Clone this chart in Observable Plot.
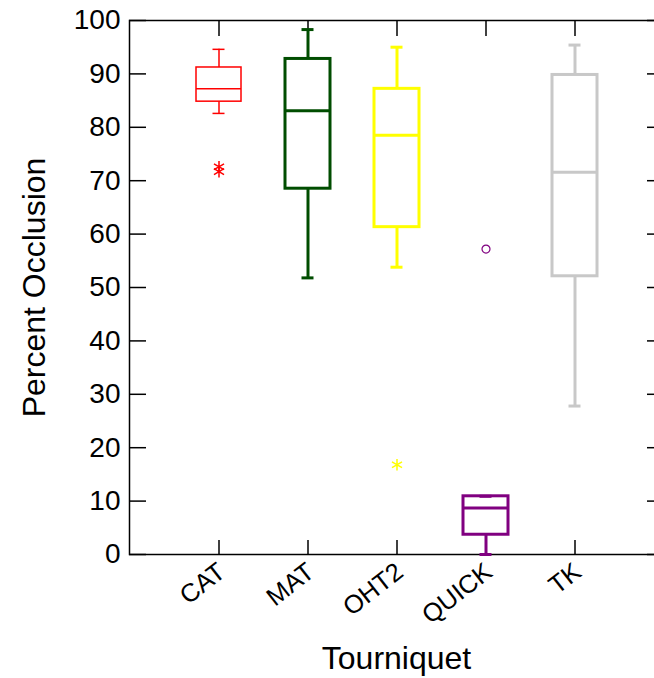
<!DOCTYPE html>
<html>
<head>
<meta charset="utf-8">
<script src="https://cdn.jsdelivr.net/npm/d3@7"></script>
<script src="https://cdn.jsdelivr.net/npm/@observablehq/plot@0.6"></script>
<style>
  html, body { margin: 0; padding: 0; background: white; overflow: hidden; }
  svg { max-width: none !important; }
</style>
</head>
<body>
<div id="chart"></div>
<script>
// ---- data ----
const categories   = ["CAT", "MAT", "OHT2", "QUICK", "TK"];
const whiskerLow   = [82.6, 51.8, 53.8, 0.0, 27.8];
const quartile1    = [84.8, 68.5, 61.3, 3.7, 52.1];
const medians      = [87.2, 83.1, 78.5, 8.7, 71.6];
const quartile3    = [91.2, 92.8, 87.2, 10.9, 89.8];
const whiskerHigh  = [94.6, 98.3, 95.0, 10.9, 95.4];

const outlierCategory = ["CAT", "CAT", "OHT2", "QUICK"];
const outlierValue    = [72.6, 71.7, 16.8, 57.2];
const outlierKind     = ["extreme", "extreme", "extreme", "outlier"];

const yTicks = [0, 10, 20, 30, 40, 50, 60, 70, 80, 90, 100];
const xTitle = "Tourniquet";
const yTitle = "Percent Occlusion";

// ---- styles ----
const seriesColors = ["#ff0000", "#004d00", "#ffff00", "#800080", "#c8c8c8"];
const thinSeries = ["CAT"];
const widthOf = d => thinSeries.includes(d.cat) ? 1.5 : 3;

const boxes = categories.map((cat, i) => ({
  cat, lo: whiskerLow[i], q1: quartile1[i], med: medians[i], q3: quartile3[i], hi: whiskerHigh[i]
}));
const outliers = outlierCategory.map((cat, i) => ({cat, value: outlierValue[i], kind: outlierKind[i]}));

const font = "'Liberation Sans', Arial, Helvetica, sans-serif";

const chart = Plot.plot({
  width: 664,
  height: 678,
  marginLeft: 129,
  marginRight: 1,
  marginTop: 20,
  marginBottom: 124,
  style: {fontFamily: font, color: "black", background: "white"},
  x: {type: "band", domain: categories, paddingInner: 0.5, paddingOuter: 0.75},
  y: {domain: [0, 100]},
  color: {domain: categories, range: seriesColors},
  symbol: {domain: ["extreme", "outlier"], range: ["asterisk", "circle"]},
  marks: [
    Plot.frame({stroke: "black", strokeWidth: 1.5}),
    // left axis (ticks inward)
    Plot.axisY({anchor: "left", ticks: yTicks, tickSize: -17, tickPadding: 26, fontSize: 28,
      strokeWidth: 1.5, label: null}),
    Plot.axisY({anchor: "left", ticks: [], label: yTitle, fontSize: 32,
      labelAnchor: "center", labelArrow: "none", labelOffset: 107}),
    // right axis ticks only
    Plot.axisY({anchor: "right", ticks: yTicks, tickSize: -17, tickFormat: () => "", strokeWidth: 1.5, label: null}),
    // bottom axis: ticks upward, then rotated labels
    Plot.axisX({anchor: "bottom", tickSize: -14, tickFormat: () => "", strokeWidth: 1.5, label: null}),
    Plot.axisX({anchor: "bottom", tickSize: 0, tickPadding: 14, tickRotate: -38, fontSize: 25.5,
      label: null, dx: 3}),
    Plot.axisX({anchor: "bottom", ticks: [], label: xTitle, fontSize: 32,
      labelAnchor: "center", labelArrow: "none", labelOffset: 114}),
    // top axis ticks only
    Plot.axisX({anchor: "top", tickSize: -15, tickFormat: () => "", strokeWidth: 1.5, label: null}),
    // whiskers
    Plot.ruleX(boxes, {x: "cat", y1: "lo", y2: "q1", stroke: "cat", strokeWidth: widthOf}),
    Plot.ruleX(boxes, {x: "cat", y1: "q3", y2: "hi", stroke: "cat", strokeWidth: widthOf}),
    Plot.tickY(boxes, {x: "cat", y: "lo", stroke: "cat", strokeWidth: widthOf, insetLeft: 16.5, insetRight: 16.5}),
    Plot.tickY(boxes, {x: "cat", y: "hi", stroke: "cat", strokeWidth: widthOf, insetLeft: 16.5, insetRight: 16.5}),
    // boxes
    Plot.barY(boxes, {x: "cat", y1: "q1", y2: "q3", fill: "none", stroke: "cat", strokeWidth: widthOf}),
    Plot.tickY(boxes, {x: "cat", y: "med", stroke: "cat", strokeWidth: widthOf}),
    // outliers
    Plot.dot(outliers.filter(d => d.kind === "extreme"), {x: "cat", y: "value", symbol: "kind", stroke: "cat", fill: "none", r: 5.5, strokeWidth: 1.5}),
    Plot.dot(outliers.filter(d => d.kind === "outlier"), {x: "cat", y: "value", symbol: "kind", stroke: "cat", fill: "none", r: 4, strokeWidth: 1.2})
  ]
});
document.getElementById("chart").appendChild(chart);
</script>
</body>
</html>
